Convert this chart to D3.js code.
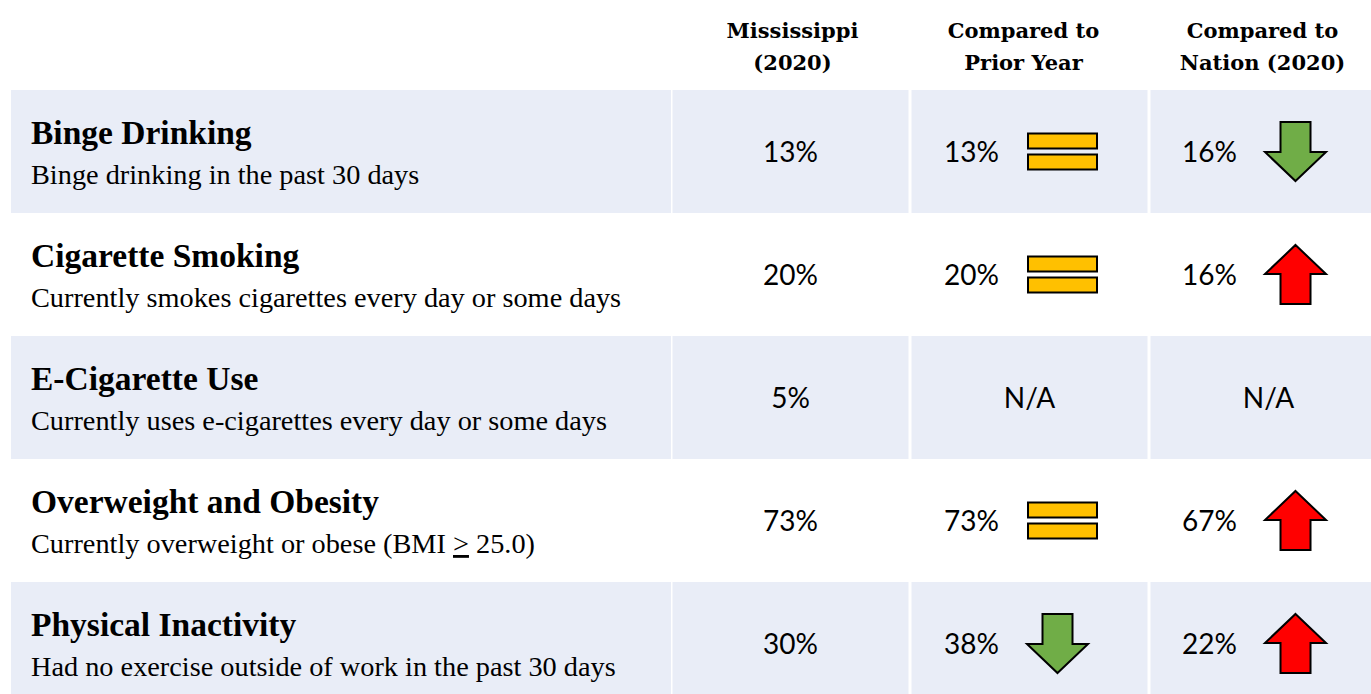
<!DOCTYPE html>
<html>
<head>
<meta charset="utf-8">
<script src="https://cdn.jsdelivr.net/npm/d3@7"></script>
<style>
  body { margin: 0; background: #fff; }
  svg { display: block; }
  .head { font-family: "DejaVu Serif", serif; font-weight: bold; font-size: 21px; fill: #000; }
  .title { font-family: "Liberation Serif", serif; font-weight: bold; font-size: 33.5px; fill: #000; }
  .desc { font-family: "Liberation Serif", serif; font-size: 28.3px; fill: #000; }
  .val { font-family: Lato, "Open Sans", sans-serif; font-size: 28px; fill: #000; }
</style>
</head>
<body>
<div id="chart"></div>
<script>
// table content
const measures = ['Binge Drinking', 'Cigarette Smoking', 'E-Cigarette Use', 'Overweight and Obesity', 'Physical Inactivity'];
const descriptions = [
  'Binge drinking in the past 30 days',
  'Currently smokes cigarettes every day or some days',
  'Currently uses e-cigarettes every day or some days',
  'Currently overweight or obese (BMI > 25.0)',
  'Had no exercise outside of work in the past 30 days'
];
const columns = ['state', 'prior', 'nation'];
const columnHeaders = [['Mississippi', '(2020)'], ['Compared to', 'Prior Year'], ['Compared to', 'Nation (2020)']];
const stateValues = [13, 20, 5, 73, 30];
const priorYearValues = [13, 20, null, 73, 38];
const priorYearTrend = ['same', 'same', null, 'same', 'down'];
const nationValues = [16, 16, null, 67, 22];
const nationTrend = ['down', 'up', null, 'up', 'up'];

const width = 1371, height = 694;
const headerH = 90, rowH = 123;

const svg = d3.select('#chart').append('svg')
  .attr('width', width)
  .attr('height', height);

const y = d3.scaleBand()
  .domain(measures)
  .range([headerH, headerH + rowH * measures.length]);

// value columns, 3px white gutters between them
const x = d3.scaleBand()
  .domain(columns)
  .range([672.5, 672.5 + 238 * 3])
  .paddingInner(3 / 238)
  .paddingOuter(0);

const labelX0 = 11, labelX1 = 671;

const rows = svg.selectAll('.row')
  .data(measures)
  .enter().append('g')
  .attr('class', 'row')
  .attr('transform', d => `translate(0,${y(d)})`);

// shaded backgrounds on alternating rows
rows.each(function(d, i) {
  if (i % 2 !== 0) return;
  const g = d3.select(this);
  g.append('rect')
    .attr('x', labelX0).attr('y', 0)
    .attr('width', labelX1 - labelX0).attr('height', y.bandwidth())
    .attr('fill', '#e9edf7');
  columns.forEach(c => {
    g.append('rect')
      .attr('x', x(c)).attr('y', 0)
      .attr('width', x.bandwidth()).attr('height', y.bandwidth())
      .attr('fill', '#e9edf7');
  });
});

rows.append('text')
  .attr('class', 'title')
  .attr('x', 31).attr('y', 54)
  .text(d => d);

rows.append('text')
  .attr('class', 'desc')
  .attr('x', 31).attr('y', 94)
  .each(function(d, i) {
    const t = d3.select(this);
    const txt = descriptions[i];
    const k = txt.indexOf('>');
    if (k < 0) { t.text(txt); return; }
    t.append('tspan').text(txt.slice(0, k));
    t.append('tspan').attr('text-decoration', 'underline').text('>');
    t.append('tspan').text(txt.slice(k + 1));
  });

// header (slightly off the column centres, as in the source)
const headShift = [2, -6, -6];
const head = svg.append('g');
columns.forEach((c, i) => {
  const cx = x(c) + x.bandwidth() / 2 + headShift[i];
  const t = head.append('text')
    .attr('class', 'head')
    .attr('text-anchor', 'middle')
    .attr('x', cx);
  columnHeaders[i].forEach((line, j) => {
    t.append('tspan')
      .attr('x', cx)
      .attr('y', 38 + j * 32)
      .text(line);
  });
});

const fmt = v => v + '%';
const midY = y.bandwidth() / 2;

// state column
rows.append('text')
  .attr('class', 'val')
  .attr('text-anchor', 'middle')
  .attr('x', x('state') + x.bandwidth() / 2)
  .attr('y', midY + 10)
  .text((d, i) => fmt(stateValues[i]));

function drawIcon(g, kind, cx, cy) {
  if (kind === 'same') {
    [-1, 1].forEach(s => {
      g.append('rect')
        .attr('x', cx - 34.5).attr('y', cy + (s < 0 ? -18 : 3))
        .attr('width', 69).attr('height', 15)
        .attr('fill', '#ffc000').attr('stroke', '#000').attr('stroke-width', 2);
    });
    return;
  }
  const dir = kind === 'up' ? -1 : 1;
  const hw = 30.5, sw = 15, half = 29.5, head = 29;
  const tipY = cy + dir * half;
  const baseY = tipY - dir * head;
  const endY = cy - dir * half;
  const pts = [
    [cx, tipY], [cx + hw, baseY], [cx + sw, baseY], [cx + sw, endY],
    [cx - sw, endY], [cx - sw, baseY], [cx - hw, baseY]
  ];
  g.append('path')
    .attr('d', d3.line()(pts) + 'Z')
    .attr('fill', kind === 'up' ? '#ff0000' : '#70ad47')
    .attr('stroke', '#000').attr('stroke-width', 2)
    .attr('stroke-linejoin', 'miter');
}

function compareColumn(col, values, trend, textOff, iconOff) {
  rows.each(function(d, i) {
    const g = d3.select(this);
    const x0 = x(col);
    if (values[i] == null) {
      g.append('text')
        .attr('class', 'val')
        .attr('text-anchor', 'middle')
        .attr('x', x0 + x.bandwidth() / 2)
        .attr('y', midY + 10)
        .text('N/A');
      return;
    }
    g.append('text')
      .attr('class', 'val')
      .attr('text-anchor', 'middle')
      .attr('x', x0 + textOff)
      .attr('y', midY + 10)
      .text(fmt(values[i]));
    drawIcon(g, trend[i], x0 + (trend[i] === 'same' ? iconOff + 5 : iconOff), midY);
  });
}

compareColumn('prior', priorYearValues, priorYearTrend, 60, 146);
compareColumn('nation', nationValues, nationTrend, 59, 145);
</script>
</body>
</html>
